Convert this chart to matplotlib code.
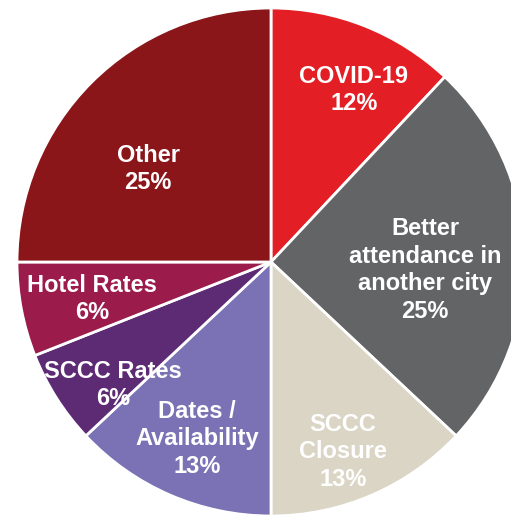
import matplotlib
matplotlib.use("Agg")
import matplotlib.pyplot as plt

categories = ["COVID-19", "Better\nattendance in\nanother city", "SCCC\nClosure",
              "Dates /\nAvailability", "SCCC Rates", "Hotel Rates", "Other"]
values = [12, 25, 13, 13, 6, 6, 25]
colors = ["#E31E24", "#636466", "#DAD5C5", "#7A72B5", "#5D2A74", "#9B1B4B", "#8A1619"]

# label anchor positions in pixels (x from left, y from top)
label_pos = [(354, 90), (425, 270), (343, 452), (197, 439), (113, 385), (92, 299), (148, 169)]

W, H = 511, 515
fig = plt.figure(figsize=(W / 100, H / 100), dpi=100)
ax = fig.add_axes([0, 0, 1, 1])
ax.set_xlim(0, W)
ax.set_ylim(0, H)
ax.set_aspect("equal")
ax.axis("off")

cx, cy, r = 271, H - 262, 254
ax.pie(values, colors=colors, startangle=90, counterclock=False,
       center=(cx, cy), radius=r, frame=True,
       wedgeprops=dict(edgecolor="white", linewidth=2))
ax.set_xlim(0, W)
ax.set_ylim(0, H)
ax.axis("off")

for cat, v, (px, py) in zip(categories, values, label_pos):
    ax.text(px, H - py, f"{cat}\n{v}%", ha="center", va="center",
            color="white", fontsize=17, fontweight="bold",
            family=["Liberation Sans", "DejaVu Sans"], linespacing=1.27)

fig.savefig("out.png", dpi=100)
